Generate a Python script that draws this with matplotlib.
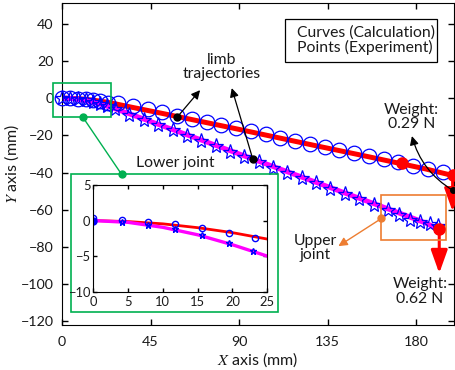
import matplotlib.pyplot as plt
from matplotlib.patches import Rectangle

plt.rcParams['font.family'] = ['Lato', 'DejaVu Sans']
plt.rcParams['mathtext.fontset'] = 'stix'

# calculated curves (mm)
red_x = [0, 5, 10, 15, 20, 25, 35, 50, 70, 90, 110, 130, 150, 170, 185, 198.6]
red_y = [0, -0.14, -0.46, -1.0, -1.7, -2.6, -4.8, -8.0, -12.4, -16.8, -21.3, -25.8, -30.2, -34.7, -38.1, -41.6]
mag_x = [0, 5, 10, 15, 20, 25, 35, 50, 70, 90, 110, 130, 150, 170, 185, 191.8]
mag_y = [0, -0.25, -0.95, -2.0, -3.4, -5.0, -8.7, -14.5, -22.2, -30.0, -37.8, -45.6, -53.4, -61.2, -67.2, -70.6]

# experiment points (mm)
circ_x = [0, 4, 8, 12, 15.7, 19.5, 23.2, 28.5, 36, 43.5, 51, 58.5, 66, 73.5, 81, 88.5,
          96, 103.5, 111, 118.5, 126, 133.5, 141, 148.5, 156, 163.5, 171, 178.5, 186, 193.5]
circ_y = [0.3, 0.1, -0.2, -0.5, -1.1, -1.7, -2.5, -2.7, -4.4, -6.0, -7.7, -9.4, -11.1, -12.8,
          -14.4, -16.1, -17.8, -19.5, -21.2, -22.8, -24.5, -26.2, -27.9, -29.6, -31.2, -32.9,
          -34.6, -36.3, -38.0, -39.7]
star_x = [0, 4, 8, 12, 15.6, 19.5, 22.9, 27, 34.3, 41.6, 48.9, 56.2, 63.5, 70.8, 78.1, 85.4,
          92.7, 100, 107.3, 114.6, 121.9, 129.2, 136.5, 143.8, 151.1, 158.4, 165.7, 171.5,
          177, 182, 187, 191]
star_y = [0, -0.2, -0.6, -1.2, -2.0, -3.1, -4.3, -6.0, -8.9, -11.8, -14.6, -17.4, -20.3,
          -23.1, -26.0, -28.8, -31.7, -34.5, -37.4, -40.2, -43.1, -45.9, -48.8, -51.6, -54.5,
          -57.3, -60.2, -62.6, -65.6, -66.5, -67.7, -68.6]

# lower joint zoom (inset)
in_red_x = [0, 5, 10, 15, 20, 25]
in_red_y = [0, -0.14, -0.46, -1.0, -1.7, -2.6]
in_mag_x = [0, 5, 10, 15, 20, 25]
in_mag_y = [0, -0.25, -0.95, -2.0, -3.4, -5.0]
in_circ_x = [0, 4.1, 7.9, 11.8, 15.6, 19.5, 23.3]
in_circ_y = [0.3, 0.1, -0.2, -0.5, -1.1, -1.7, -2.5]
in_star_x = [0, 4.1, 7.9, 11.8, 15.6, 19.5, 22.9]
in_star_y = [0, -0.2, -0.6, -1.2, -2.0, -3.1, -4.3]

txt = '#1a1a1a'
green = '#00b050'
orange = '#ed7d31'
fs = 11.3

fig = plt.figure(figsize=(4.55, 3.7), dpi=100)
ax = fig.add_axes([0.1363, 0.1216, 0.8615, 0.8695])

ax.plot(red_x, red_y, color='red', lw=3.6, zorder=2)
ax.plot(mag_x, mag_y, color='magenta', lw=3.6, zorder=2)
ax.plot(circ_x, circ_y, 'o', mfc='none', mec='blue', ms=10.5, mew=0.9, zorder=3, clip_on=False)
ax.plot(star_x, star_y, '*', mfc='none', mec='blue', ms=11, mew=0.9, zorder=3, clip_on=False)

ax.set_xlim(0, 199.3)
ax.set_ylim(-122, 51)
ax.set_xticks([0, 45, 90, 135, 180])
ax.set_yticks([-120, -100, -80, -60, -40, -20, 0, 20, 40])
ax.tick_params(direction='in', top=True, right=True, length=4, width=1, labelsize=10.3,
               labelcolor=txt)
ax.tick_params(axis='x', pad=8)
ax.tick_params(axis='y', pad=6)
ax.set_xlabel(r'$X$ axis (mm)', fontsize=11.5, color=txt, labelpad=2)
ax.set_ylabel(r'$Y$ axis (mm)', fontsize=11.5, color=txt, labelpad=0)

# legend-like box
ax.add_patch(Rectangle((113.4, 19.5), 77.1, 23.3, fill=False, ec='k', lw=0.9, zorder=4))
ax.text(119.3, 31.2, 'Curves (Calculation)\nPoints (Experiment)', ha='left', va='center',
        fontsize=fs, color=txt, linespacing=1.05)

# limb trajectories
ax.plot([58.5, 97], [-10.3, -32.8], 'o', color='k', ms=5, zorder=5)
ax.text(81.3, 16.7, 'limb\ntrajectories', ha='center', va='center', fontsize=fs,
        color=txt, linespacing=1.05)
blk = dict(arrowstyle='-|>', color='k', lw=0.9, mutation_scale=13, shrinkA=0, shrinkB=0)
ax.annotate('', xy=(70.2, 4.3), xytext=(58.5, -10.3), arrowprops=blk)
ax.annotate('', xy=(86.3, 5.4), xytext=(97, -32.8), arrowprops=blk)

# weights
ax.plot([172.7, 198.6, 191.8], [-35.1, -41.6, -70.6], 'o', color='red', ms=8, zorder=5,
        clip_on=False)
red_arrow = dict(arrowstyle='-|>,head_length=0.7,head_width=0.25', color='red', lw=2.2,
                 mutation_scale=20, shrinkA=0, shrinkB=0)
ax.annotate('', xy=(198.6, -61), xytext=(198.6, -41.6), arrowprops=red_arrow,
            annotation_clip=False)
ax.annotate('', xy=(191.8, -94.2), xytext=(191.8, -70.6), arrowprops=red_arrow)
ax.plot([198.6], [-49.5], 'o', color='k', ms=4, zorder=6, clip_on=False)
ax.annotate('', xy=(177.9, -20.4), xytext=(198.6, -49.5),
            arrowprops=dict(blk, connectionstyle='arc3,rad=-0.2'), annotation_clip=False)
ax.text(177.6, -10.2, 'Weight:\n0.29 N', ha='center', va='center', fontsize=fs,
        color=txt, linespacing=1.05)
ax.text(182, -104.1, 'Weight:\n0.62 N', ha='center', va='center', fontsize=fs,
        color=txt, linespacing=1.05)

# upper joint
ax.add_patch(Rectangle((162.4, -76.3), 32.7, 24.1, fill=False, ec=orange, lw=1.2, zorder=4))
ax.plot([162.4], [-64.7], 'o', color=orange, ms=5, zorder=5)
ax.annotate('', xy=(140.5, -79.6), xytext=(162.4, -64.7),
            arrowprops=dict(arrowstyle='-|>', color=orange, lw=1, mutation_scale=13,
                            shrinkA=0, shrinkB=0))
ax.text(128.6, -80.7, 'Upper\njoint', ha='center', va='center', fontsize=fs,
        color=txt, linespacing=1.05)

# lower joint
ax.add_patch(Rectangle((-4.7, -10.1), 29.5, 18.5, fill=False, ec=green, lw=1.2, zorder=4,
                       clip_on=False))
ax.add_patch(Rectangle((4.4, -114.9), 105.2, 73.9, fill=False, ec=green, lw=1.2, zorder=4))
ax.plot([10.5, 30.3], [-10.1, -41.0], '-o', color=green, lw=1, ms=5, zorder=5)
ax.text(57.4, -35, 'Lower joint', ha='center', va='center', fontsize=fs, color=txt)

ins = fig.add_axes([93.3 / 455, 1 - 291.7 / 370, 174 / 455, 106.7 / 370])
ins.plot(in_red_x, in_red_y, color='red', lw=2)
ins.plot(in_mag_x, in_mag_y, color='magenta', lw=2.4)
ins.plot(in_circ_x, in_circ_y, 'o', mfc='none', mec='blue', ms=4.5, mew=1)
ins.plot(in_star_x, in_star_y, '*', mfc='none', mec='blue', ms=5, mew=1)
ins.plot([0], [0], 'o', color='blue', ms=5)
ins.set_xlim(0, 25)
ins.set_ylim(-10, 5)
ins.set_xticks([0, 5, 10, 15, 20, 25])
ins.set_yticks([-10, -5, 0, 5])
ins.tick_params(direction='in', top=True, right=True, length=3, width=1, labelsize=9.3,
                labelcolor=txt)
ins.tick_params(axis='x', pad=3)
ins.tick_params(axis='y', pad=2)

fig.savefig('out.png', dpi=100)
